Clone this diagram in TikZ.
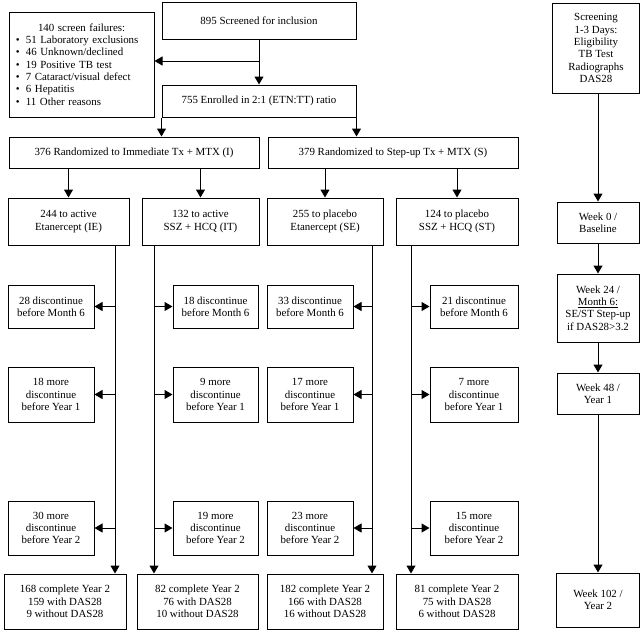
\documentclass[tikz,border=0pt]{standalone}
\usepackage{fontspec}
\setmainfont{Liberation Serif}
\usetikzlibrary{arrows.meta}
\tikzset{
  box/.style={draw, line width=1pt, align=center, inner sep=2pt,
    font=\fontsize{10.9}{12.3}\selectfont},
  arr/.style={line width=1pt, -{Triangle[length=8pt,width=9pt]}}
}
\begin{document}
\begin{tikzpicture}[x=1pt,y=-1pt]
\fill[white] (0,0) rectangle (644,632);
\useasboundingbox (0,0) rectangle (644,632);

% top
\node[box, minimum width=145pt, minimum height=105pt, text width=131pt, align=left] (fail) at (81.5,64.5)
 {\hspace*{22pt}140 screen failures:\\
  \textbullet\hspace{6pt}51 Laboratory exclusions\\
  \textbullet\hspace{6pt}46 Unknown/declined\\
  \textbullet\hspace{6pt}19 Positive TB test\\
  \textbullet\hspace{6pt}7 Cataract/visual defect\\
  \textbullet\hspace{6pt}6 Hepatitis\\
  \textbullet\hspace{6pt}11 Other reasons};
\node[box, minimum width=194pt, minimum height=37pt] (scrn) at (259,21) {895 Screened for inclusion};
\node[box, minimum width=194pt, minimum height=32pt] (enr) at (259,101) {755 Enrolled in 2:1 (ETN:TT) ratio};
\coordinate (brk) at (259,61);

\node[box, minimum width=250pt, minimum height=31pt] (ri) at (134,152.5) {376 Randomized to Immediate Tx + MTX (I)};
\node[box, minimum width=250pt, minimum height=31pt] (rs) at (393,152.5) {379 Randomized to Step-up Tx + MTX (S)};

% arms
\node[box, minimum width=121pt, minimum height=47pt] (ie) at (68.5,221.5) {244 to active\\ Etanercept (IE)};
\node[box, minimum width=117pt, minimum height=47pt] (it) at (200.5,221.5) {132 to active\\ SSZ + HCQ (IT)};
\node[box, minimum width=116pt, minimum height=47pt] (se) at (325,221.5) {255 to placebo\\ Etanercept (SE)};
\node[box, minimum width=122pt, minimum height=47pt] (st) at (457,221.5) {124 to placebo\\ SSZ + HCQ (ST)};

% discontinue row 1
\node[box, minimum width=86pt, minimum height=43pt] (d11) at (51,306.5) {28 discontinue\\ before Month 6};
\node[box, minimum width=85pt, minimum height=43pt] (d12) at (215.5,306.5) {18 discontinue\\ before Month 6};
\node[box, minimum width=86pt, minimum height=43pt] (d13) at (310,306.5) {33 discontinue\\ before Month 6};
\node[box, minimum width=88pt, minimum height=43pt] (d14) at (474,306.5) {21 discontinue\\ before Month 6};
% row 2
\node[box, minimum width=86pt, minimum height=55pt] (d21) at (51,394.5) {18 more\\ discontinue\\ before Year 1};
\node[box, minimum width=85pt, minimum height=55pt] (d22) at (215.5,394.5) {9 more\\ discontinue\\ before Year 1};
\node[box, minimum width=86pt, minimum height=55pt] (d23) at (310,394.5) {17 more\\ discontinue\\ before Year 1};
\node[box, minimum width=88pt, minimum height=55pt] (d24) at (474,394.5) {7 more\\ discontinue\\ before Year 1};
% row 3
\node[box, minimum width=86pt, minimum height=54pt] (d31) at (51,528) {30 more\\ discontinue\\ before Year 2};
\node[box, minimum width=85pt, minimum height=54pt] (d32) at (215.5,528) {19 more\\ discontinue\\ before Year 2};
\node[box, minimum width=86pt, minimum height=54pt] (d33) at (310,528) {23 more\\ discontinue\\ before Year 2};
\node[box, minimum width=88pt, minimum height=54pt] (d34) at (474,528) {15 more\\ discontinue\\ before Year 2};

% finals
\node[box, minimum width=122pt, minimum height=55pt] (fie) at (65,601.5) {168 complete Year 2\\ 159 with DAS28\\ 9 without DAS28};
\node[box, minimum width=121pt, minimum height=55pt] (fit) at (197.5,601.5) {82 complete Year 2\\ 76 with DAS28\\ 10 without DAS28};
\node[box, minimum width=116pt, minimum height=55pt] (fse) at (325,601.5) {182 complete Year 2\\ 166 with DAS28\\ 16 without DAS28};
\node[box, minimum width=122pt, minimum height=55pt] (fst) at (457,601.5) {81 complete Year 2\\ 75 with DAS28\\ 6 without DAS28};

% timeline
\node[box, minimum width=87pt, minimum height=90pt] (scr) at (596,48) {Screening\\ 1-3 Days:\\ Eligibility\\ TB Test\\ Radiographs\\ DAS28};
\node[box, minimum width=82pt, minimum height=41pt] (w0) at (598,222.5) {Week 0 /\\ Baseline};
\node[box, minimum width=82pt, minimum height=68pt] (w24) at (598,308) {Week 24 /\\ \underline{Month 6:}\\ SE/ST Step-up\\ if DAS28>3.2};
\node[box, minimum width=82pt, minimum height=41pt] (w48) at (598,393.5) {Week 48 /\\ Year 1};
\node[box, minimum width=83pt, minimum height=54pt] (w102) at (598,600) {Week 102 /\\ Year 2};

% vertical line positions
\coordinate (xie) at (115,0);
\coordinate (xit) at (154,0);
\coordinate (xse) at (372,0);
\coordinate (xst) at (411,0);

% connectors
\draw[arr] (scrn) -- (enr);
\draw[arr] (brk) -- (brk -| fail.east);
\draw[arr] (enr.south west) -- (enr.south west |- ri.north);
\draw[arr] (enr.south east) -- (enr.south east |- rs.north);
\draw[arr] (ri.south -| ie.north) -- (ie.north);
\draw[arr] (ri.south -| it.north) -- (it.north);
\draw[arr] (rs.south -| se.north) -- (se.north);
\draw[arr] (rs.south -| st.north) -- (st.north);

\draw[arr] (ie.south -| xie) -- (fie.north -| xie);
\draw[arr] (it.south -| xit) -- (fit.north -| xit);
\draw[arr] (se.south -| xse) -- (fse.north -| xse);
\draw[arr] (st.south -| xst) -- (fst.north -| xst);

\foreach \r in {1,2,3} {
  \draw[arr] (d\r1.east -| xie) -- (d\r1.east);
  \draw[arr] (d\r2.west -| xit) -- (d\r2.west);
  \draw[arr] (d\r3.east -| xse) -- (d\r3.east);
  \draw[arr] (d\r4.west -| xst) -- (d\r4.west);
}

\draw[arr] (scr.south -| w0.north) -- (w0.north);
\draw[arr] (w0) -- (w24);
\draw[arr] (w24) -- (w48);
\draw[arr] (w48) -- (w102);
\end{tikzpicture}
\end{document}
